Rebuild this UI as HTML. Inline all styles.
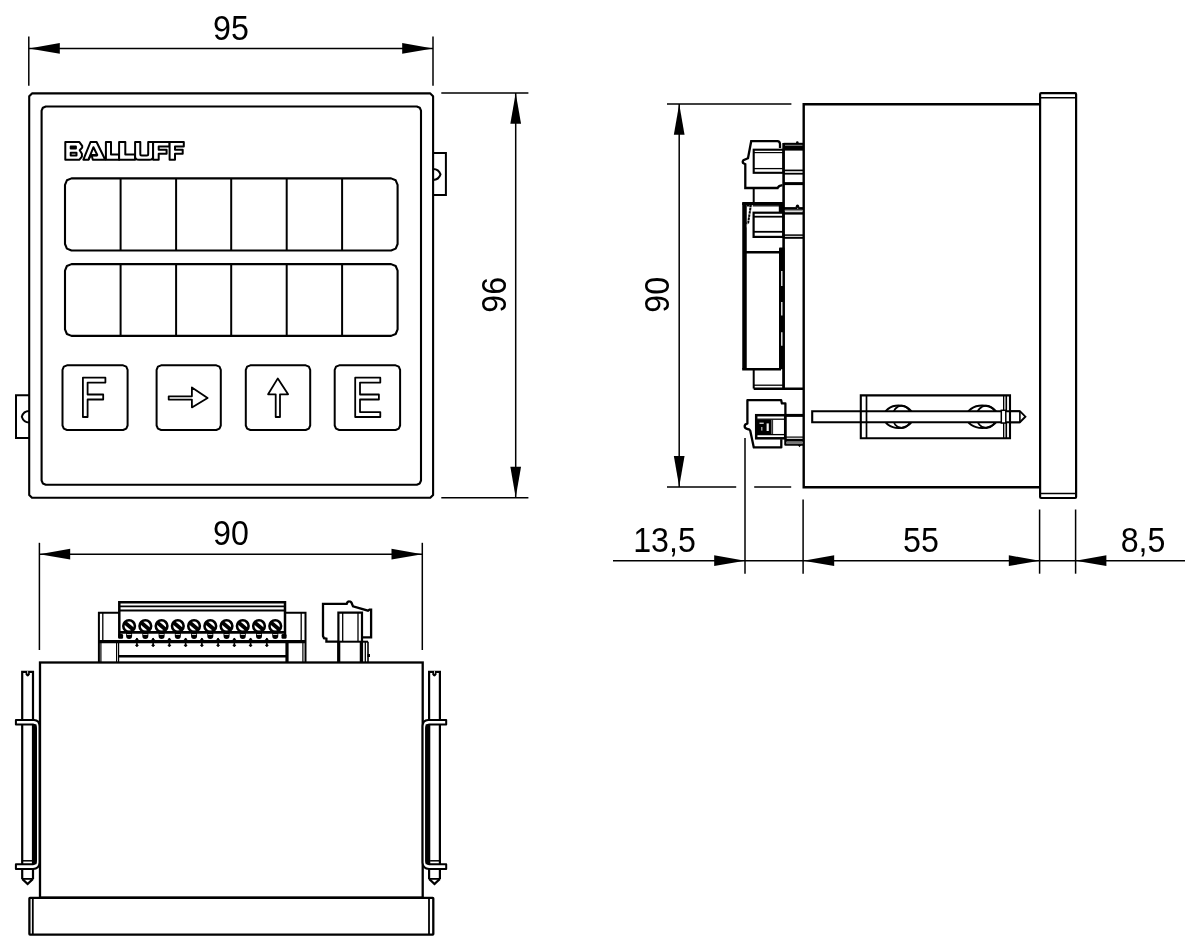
<!DOCTYPE html>
<html><head><meta charset="utf-8"><title>Dimensional drawing</title>
<style>
html,body{margin:0;padding:0;background:#fff;}
body{width:1200px;height:951px;overflow:hidden;font-family:"Liberation Sans",sans-serif;}
svg{display:block;will-change:transform;}
svg text{font-family:"Liberation Sans",sans-serif;}
</style></head>
<body>
<svg width="1200" height="951" viewBox="0 0 1200 951" fill="none" stroke="#000" stroke-linecap="butt">
<rect x="0" y="0" width="1200" height="951" fill="#fff" stroke="none"/>
<g id="front">
<path d="M430.3,93.4 L433.1,96.2 L433.1,494.9 L430.3,497.7 L32.0,497.7 L29.2,494.9 L29.2,96.2 L32.0,93.4 Z" stroke-width="2.1" stroke-linejoin="round" />
<path d="M416.8,106.5 L419.77,107.73 L421.0,110.7 L421.0,480.5 L419.77,483.47 L416.8,484.7 L45.8,484.7 L42.83,483.47 L41.6,480.5 L41.6,110.7 L42.83,107.73 L45.8,106.5 Z" stroke-width="2.1" stroke-linejoin="round" />
<path d="M391.1,178.4 L395.7,180.3 L397.6,184.9 L397.6,244.0 L395.7,248.6 L391.1,250.5 L71.5,250.5 L66.9,248.6 L65.0,244.0 L65.0,184.9 L66.9,180.3 L71.5,178.4 Z" stroke-width="2.1" stroke-linejoin="round" />
<line x1="120.6" y1="178.4" x2="120.6" y2="250.5" stroke-width="2" />
<line x1="176.1" y1="178.4" x2="176.1" y2="250.5" stroke-width="2" />
<line x1="231.2" y1="178.4" x2="231.2" y2="250.5" stroke-width="2" />
<line x1="286.7" y1="178.4" x2="286.7" y2="250.5" stroke-width="2" />
<line x1="342.1" y1="178.4" x2="342.1" y2="250.5" stroke-width="2" />
<path d="M391.1,264.1 L395.7,266.0 L397.6,270.6 L397.6,329.4 L395.7,334.0 L391.1,335.9 L71.5,335.9 L66.9,334.0 L65.0,329.4 L65.0,270.6 L66.9,266.0 L71.5,264.1 Z" stroke-width="2.1" stroke-linejoin="round" />
<line x1="120.6" y1="264.1" x2="120.6" y2="335.9" stroke-width="2" />
<line x1="176.1" y1="264.1" x2="176.1" y2="335.9" stroke-width="2" />
<line x1="231.2" y1="264.1" x2="231.2" y2="335.9" stroke-width="2" />
<line x1="286.7" y1="264.1" x2="286.7" y2="335.9" stroke-width="2" />
<line x1="342.1" y1="264.1" x2="342.1" y2="335.9" stroke-width="2" />
<path d="M123.1,365.3 L126.28,366.62 L127.6,369.8 L127.6,425.5 L126.28,428.68 L123.1,430.0 L67.0,430.0 L63.82,428.68 L62.5,425.5 L62.5,369.8 L63.82,366.62 L67.0,365.3 Z" stroke-width="2" stroke-linejoin="round" />
<path d="M216.3,365.3 L219.48,366.62 L220.8,369.8 L220.8,425.5 L219.48,428.68 L216.3,430.0 L161.1,430.0 L157.92,428.68 L156.6,425.5 L156.6,369.8 L157.92,366.62 L161.1,365.3 Z" stroke-width="2" stroke-linejoin="round" />
<path d="M305.7,365.3 L308.88,366.62 L310.2,369.8 L310.2,425.5 L308.88,428.68 L305.7,430.0 L250.3,430.0 L247.12,428.68 L245.8,425.5 L245.8,369.8 L247.12,366.62 L250.3,365.3 Z" stroke-width="2" stroke-linejoin="round" />
<path d="M395.6,365.3 L398.78,366.62 L400.1,369.8 L400.1,425.5 L398.78,428.68 L395.6,430.0 L339.2,430.0 L336.02,428.68 L334.7,425.5 L334.7,369.8 L336.02,366.62 L339.2,365.3 Z" stroke-width="2" stroke-linejoin="round" />
<path d="M82.9,377.7 H105.4 V382.6 H87.6 V394.5 H103.2 V399.5 H87.6 V417 H82.9 Z" stroke-width="1.8" stroke-linejoin="round"/>
<path d="M168.7,396.3 H191.9 V387.4 L207.6,397.9 L191.9,407.4 V399.6 H168.7 Z" stroke-width="1.8" stroke-linejoin="round"/>
<path d="M277.8,378.4 L288.1,394.3 H280 V417 H275.7 V394.3 H268.1 Z" stroke-width="1.8" stroke-linejoin="round"/>
<path d="M355.2,377.7 H380.3 V382.6 H360 V394.5 H378.9 V399.5 H360 V412.1 H380.3 V417 H355.2 Z" stroke-width="1.8" stroke-linejoin="round"/>
<path d="M433.1,152.9 H445.9 V194.9 H433.1" stroke-width="2" />
<path d="M433.1,168.9 C437.6,168.9 439.6,171.6 440.5,174.4 C439.6,177.2 437.6,179.9 433.1,179.9" stroke-width="2" stroke-linejoin="round"/>
<path d="M29.2,395.3 H16 V438 H29.2" stroke-width="2" />
<path d="M29.2,411 C24.7,411 22.7,413.8 21.8,416.7 C22.7,419.6 24.7,422.4 29.2,422.4" stroke-width="2" stroke-linejoin="round"/>
<g id="logo" stroke-width="2" stroke-linejoin="round" fill="#fff">
<path d="M105.9,142.1 H111 V154.6 H119.1 V159.8 H105.9 Z"/>
<path d="M65.3,142.1 H79.4 L82.2,145.8 V147.6 L79.7,150.3 L81.9,153.8 V156.6 L79.2,159.8 H65.3 Z"/>
<path d="M70.7,146.4 H75.9 V148.5 H70.7 Z M70.7,152.7 H76.5 V155.6 H70.7 Z"/>
<path d="M83.4,159.7 L90.5,142 H96.6 L105.2,159.7 H92.8 L91.8,156 L90.9,155 L88.5,159.7 Z"/>
<path d="M88.5,159.7 L93.45,147.2 L97.3,155 H90.9" fill="none"/>
<path d="M90.9,155.4 H97.4" stroke-width="2.4" fill="none"/>
<path d="M119.1,142.1 H125.3 V154.6 H135.1 V159.8 H119.1 Z"/>
<path d="M135.1,142.1 H140.3 V154 Q140.3,155.5 141.8,155.5 H146.7 Q148.2,155.5 148.2,154 V142.1 H153.1 V156.4 Q153.1,159.8 149.4,159.8 H139 Q135.1,159.8 135.1,156.4 Z"/>
<path d="M153.1,142.1 H169.6 V146.5 H158.7 V149.8 H166.6 V153.8 H158.7 V159.8 H153.1 Z"/>
<path d="M169.6,142.1 H183.8 V146.5 H175 V149.8 H182.7 V153.8 H175 V159.8 H169.6 Z"/>

</g>
</g>
<g id="dims1">
<line x1="28.8" y1="36.6" x2="28.8" y2="85.8" stroke-width="1.5" />
<line x1="433" y1="36.6" x2="433" y2="85.8" stroke-width="1.5" />
<line x1="29" y1="48.4" x2="433" y2="48.4" stroke-width="1.5" />
<polygon points="29,48.4 59.8,43.05 59.8,53.75" fill="#000" stroke="none"/>
<polygon points="433,48.4 402.2,53.75 402.2,43.05" fill="#000" stroke="none"/>
<text x="0" y="0" font-size="33" text-anchor="middle" fill="#000" stroke="none" transform="translate(230.9 39.7) scale(0.9755 1.072)">95</text>
<line x1="441.3" y1="93" x2="528.4" y2="93" stroke-width="1.5" />
<line x1="441.3" y1="497.7" x2="528.4" y2="497.7" stroke-width="1.5" />
<line x1="515.7" y1="93" x2="515.7" y2="497.7" stroke-width="1.5" />
<polygon points="515.7,93 521.0500000000001,123.8 510.35,123.8" fill="#000" stroke="none"/>
<polygon points="515.7,497.5 510.35,466.7 521.0500000000001,466.7" fill="#000" stroke="none"/>
<text x="0" y="0" font-size="33" text-anchor="middle" fill="#000" stroke="none" transform="translate(505.6 294.8) rotate(-90) scale(0.9755 1.072)">96</text>
</g>
<g id="top">
<line x1="39.4" y1="542.8" x2="39.4" y2="650" stroke-width="1.5" />
<line x1="422.3" y1="542.8" x2="422.3" y2="650" stroke-width="1.5" />
<line x1="39.4" y1="554.2" x2="422.3" y2="554.2" stroke-width="1.5" />
<polygon points="39.4,554.2 70.2,548.85 70.2,559.5500000000001" fill="#000" stroke="none"/>
<polygon points="422.3,554.2 391.5,559.5500000000001 391.5,548.85" fill="#000" stroke="none"/>
<text x="0" y="0" font-size="33" text-anchor="middle" fill="#000" stroke="none" transform="translate(230.9 544.8) scale(0.9755 1.072)">90</text>
<rect x="40" y="662.5" width="382.7" height="235.1" rx="0" stroke-width="2.3" />
<rect x="29.4" y="897.8" width="403.9" height="36.8" rx="0.6" stroke-width="2.3" />
<line x1="32.8" y1="897.6" x2="32.8" y2="934.6" stroke-width="1.8" />
<line x1="429" y1="897.6" x2="429" y2="934.6" stroke-width="1.8" />
<path d="M98.9,662 V612.7 H119 M285.3,612.7 H305.5 V662" stroke-width="2" />
<line x1="102.8" y1="612.4" x2="102.8" y2="641" stroke-width="1.3" />
<line x1="301.2" y1="612.4" x2="301.2" y2="641" stroke-width="1.3" />
<line x1="100.9" y1="642" x2="100.9" y2="662" stroke-width="1.2" />
<line x1="302.9" y1="642" x2="302.9" y2="662" stroke-width="1.2" />
<line x1="98.9" y1="641.7" x2="305.5" y2="641.7" stroke-width="3.2" />
<path d="M119.3,637.5 V602.2 H285 V637.5" stroke-width="2.5" />
<line x1="119" y1="606.4" x2="285.3" y2="606.4" stroke-width="1.6" />
<line x1="119" y1="610.4" x2="285.3" y2="610.4" stroke-width="2" />
<rect x="118.1" y="634" width="5" height="4.8" fill="#000" stroke="none" rx="1.2"/>
<rect x="281.5" y="634" width="5" height="4.8" fill="#000" stroke="none" rx="1.2"/>
<path d="M126.1,633 V636 A3,2.9 0 0 0 132.1,636 V633 Z" fill="#000" stroke="none"/>
<circle cx="129.1" cy="626.1" r="5.8" stroke-width="2.6" fill="#fff"/>
<line x1="124.8" y1="622.5" x2="133.4" y2="629.7" stroke-width="3.9"/>
<path d="M142.34,633 V636 A3,2.9 0 0 0 148.34,636 V633 Z" fill="#000" stroke="none"/>
<circle cx="145.34" cy="626.1" r="5.8" stroke-width="2.6" fill="#fff"/>
<line x1="141.04" y1="622.5" x2="149.64000000000001" y2="629.7" stroke-width="3.9"/>
<path d="M158.58,633 V636 A3,2.9 0 0 0 164.58,636 V633 Z" fill="#000" stroke="none"/>
<circle cx="161.58" cy="626.1" r="5.8" stroke-width="2.6" fill="#fff"/>
<line x1="157.28" y1="622.5" x2="165.88000000000002" y2="629.7" stroke-width="3.9"/>
<path d="M174.82,633 V636 A3,2.9 0 0 0 180.82,636 V633 Z" fill="#000" stroke="none"/>
<circle cx="177.82" cy="626.1" r="5.8" stroke-width="2.6" fill="#fff"/>
<line x1="173.51999999999998" y1="622.5" x2="182.12" y2="629.7" stroke-width="3.9"/>
<path d="M191.06,633 V636 A3,2.9 0 0 0 197.06,636 V633 Z" fill="#000" stroke="none"/>
<circle cx="194.06" cy="626.1" r="5.8" stroke-width="2.6" fill="#fff"/>
<line x1="189.76" y1="622.5" x2="198.36" y2="629.7" stroke-width="3.9"/>
<path d="M207.3,633 V636 A3,2.9 0 0 0 213.3,636 V633 Z" fill="#000" stroke="none"/>
<circle cx="210.3" cy="626.1" r="5.8" stroke-width="2.6" fill="#fff"/>
<line x1="206.0" y1="622.5" x2="214.60000000000002" y2="629.7" stroke-width="3.9"/>
<path d="M223.54,633 V636 A3,2.9 0 0 0 229.54,636 V633 Z" fill="#000" stroke="none"/>
<circle cx="226.54" cy="626.1" r="5.8" stroke-width="2.6" fill="#fff"/>
<line x1="222.23999999999998" y1="622.5" x2="230.84" y2="629.7" stroke-width="3.9"/>
<path d="M239.78,633 V636 A3,2.9 0 0 0 245.78,636 V633 Z" fill="#000" stroke="none"/>
<circle cx="242.78" cy="626.1" r="5.8" stroke-width="2.6" fill="#fff"/>
<line x1="238.48" y1="622.5" x2="247.08" y2="629.7" stroke-width="3.9"/>
<path d="M256.02,633 V636 A3,2.9 0 0 0 262.02,636 V633 Z" fill="#000" stroke="none"/>
<circle cx="259.02" cy="626.1" r="5.8" stroke-width="2.6" fill="#fff"/>
<line x1="254.71999999999997" y1="622.5" x2="263.32" y2="629.7" stroke-width="3.9"/>
<path d="M272.26,633 V636 A3,2.9 0 0 0 278.26,636 V633 Z" fill="#000" stroke="none"/>
<circle cx="275.26" cy="626.1" r="5.8" stroke-width="2.6" fill="#fff"/>
<line x1="270.96" y1="622.5" x2="279.56" y2="629.7" stroke-width="3.9"/>
<line x1="119.3" y1="632.4" x2="285.3" y2="632.4" stroke-width="2.6" />
<line x1="126.89999999999999" y1="634.5" x2="131.29999999999998" y2="634.5" stroke="#ccc" stroke-width="1"/>
<line x1="143.14000000000001" y1="634.5" x2="147.54" y2="634.5" stroke="#ccc" stroke-width="1"/>
<line x1="159.38000000000002" y1="634.5" x2="163.78" y2="634.5" stroke="#ccc" stroke-width="1"/>
<line x1="175.62" y1="634.5" x2="180.01999999999998" y2="634.5" stroke="#ccc" stroke-width="1"/>
<line x1="191.86" y1="634.5" x2="196.26" y2="634.5" stroke="#ccc" stroke-width="1"/>
<line x1="208.10000000000002" y1="634.5" x2="212.5" y2="634.5" stroke="#ccc" stroke-width="1"/>
<line x1="224.34" y1="634.5" x2="228.73999999999998" y2="634.5" stroke="#ccc" stroke-width="1"/>
<line x1="240.58" y1="634.5" x2="244.98" y2="634.5" stroke="#ccc" stroke-width="1"/>
<line x1="256.82" y1="634.5" x2="261.21999999999997" y2="634.5" stroke="#ccc" stroke-width="1"/>
<line x1="273.06" y1="634.5" x2="277.46" y2="634.5" stroke="#ccc" stroke-width="1"/>
<line x1="136.9" y1="638" x2="136.9" y2="646.6" stroke-width="1.6" />
<path d="M134.9,640 L136.9,637.8 L138.9,640 Z M134.9,645.2 L136.9,644 L138.9,645.2 L136.9,647 Z" fill="#000" stroke="none"/>
<line x1="153.14" y1="638" x2="153.14" y2="646.6" stroke-width="1.6" />
<path d="M151.14,640 L153.14,637.8 L155.14,640 Z M151.14,645.2 L153.14,644 L155.14,645.2 L153.14,647 Z" fill="#000" stroke="none"/>
<line x1="169.38" y1="638" x2="169.38" y2="646.6" stroke-width="1.6" />
<path d="M167.38,640 L169.38,637.8 L171.38,640 Z M167.38,645.2 L169.38,644 L171.38,645.2 L169.38,647 Z" fill="#000" stroke="none"/>
<line x1="185.62" y1="638" x2="185.62" y2="646.6" stroke-width="1.6" />
<path d="M183.62,640 L185.62,637.8 L187.62,640 Z M183.62,645.2 L185.62,644 L187.62,645.2 L185.62,647 Z" fill="#000" stroke="none"/>
<line x1="201.86" y1="638" x2="201.86" y2="646.6" stroke-width="1.6" />
<path d="M199.86,640 L201.86,637.8 L203.86,640 Z M199.86,645.2 L201.86,644 L203.86,645.2 L201.86,647 Z" fill="#000" stroke="none"/>
<line x1="218.1" y1="638" x2="218.1" y2="646.6" stroke-width="1.6" />
<path d="M216.1,640 L218.1,637.8 L220.1,640 Z M216.1,645.2 L218.1,644 L220.1,645.2 L218.1,647 Z" fill="#000" stroke="none"/>
<line x1="234.34" y1="638" x2="234.34" y2="646.6" stroke-width="1.6" />
<path d="M232.34,640 L234.34,637.8 L236.34,640 Z M232.34,645.2 L234.34,644 L236.34,645.2 L234.34,647 Z" fill="#000" stroke="none"/>
<line x1="250.58" y1="638" x2="250.58" y2="646.6" stroke-width="1.6" />
<path d="M248.58,640 L250.58,637.8 L252.58,640 Z M248.58,645.2 L250.58,644 L252.58,645.2 L250.58,647 Z" fill="#000" stroke="none"/>
<line x1="266.82" y1="638" x2="266.82" y2="646.6" stroke-width="1.6" />
<path d="M264.82,640 L266.82,637.8 L268.82,640 Z M264.82,645.2 L266.82,644 L268.82,645.2 L266.82,647 Z" fill="#000" stroke="none"/>
<line x1="116.6" y1="642" x2="116.6" y2="662" stroke-width="1.2" />
<line x1="118.6" y1="642" x2="118.6" y2="662" stroke-width="1.2" />
<line x1="287" y1="641" x2="287" y2="662" stroke-width="3.2" />
<line x1="119" y1="656.2" x2="287" y2="656.2" stroke-width="2.6" />
<path d="M338,641.7 H326.4 V638.6 L324,638.2 L323,636 V603.8 H346.7 Q347.5,601.3 349.3,601.4 Q351.5,601.4 352,604 L353,606.3 L368,610.7 L369.5,609.6 H371.1 V637.4 H362.5" stroke-width="2.3" />
<path d="M338.4,662 V612.7 H362 V662" stroke-width="2.2" />
<line x1="342.7" y1="612.7" x2="342.7" y2="641.7" stroke-width="1.3" />
<line x1="358" y1="612.7" x2="358" y2="641.7" stroke-width="1.3" />
<line x1="338.8" y1="641.7" x2="338.8" y2="662" stroke-width="3" />
<line x1="338.4" y1="641.7" x2="368" y2="641.7" stroke-width="2" />
<line x1="360.4" y1="641.7" x2="360.4" y2="662" stroke-width="1.3" />
<line x1="365.3" y1="641.7" x2="365.3" y2="662" stroke-width="1.3" />
<line x1="368" y1="641.7" x2="368" y2="662" stroke-width="1.6" />
<rect x="367.5" y="654" width="2.5" height="3" fill="#000" stroke="none"/>
<g>
<path d="M22.2,878.9 V671.8 H33 V878.9" stroke-width="2.2" />
<path d="M25.6,671.8 V674.6 Q27.7,678.6 29.8,674.6 V671.8 Z" fill="#000" stroke="none"/>
<path d="M27.3,671 V673.4 Q27.7,674.2 28.1,673.4 V671 Z" fill="#fff" stroke="none"/>
<path d="M15.9,720 H34 Q39.3,720.2 39.5,726 V862.5 Q39.3,868.8 33,869 H15.9 V864.2 H33 Q35.8,864 36,861 V728 Q35.8,724.6 33,724.4 H15.9 Z" stroke-width="2" fill="#fff" stroke-linejoin="round"/>
<rect x="32" y="724.4" width="4.5" height="139.8" fill="#000" stroke="none"/>
<line x1="22.2" y1="860.8" x2="32" y2="860.8" stroke-width="1.5" />
<path d="M22.2,878.9 L27.6,884 L33,878.9" stroke-width="2.2" />
<line x1="22.2" y1="878.9" x2="33" y2="878.9" stroke-width="1.8" />
</g>
<g transform="translate(462.1,0) scale(-1,1)">
<path d="M22.2,878.9 V671.8 H33 V878.9" stroke-width="2.2" />
<path d="M25.6,671.8 V674.6 Q27.7,678.6 29.8,674.6 V671.8 Z" fill="#000" stroke="none"/>
<path d="M27.3,671 V673.4 Q27.7,674.2 28.1,673.4 V671 Z" fill="#fff" stroke="none"/>
<path d="M15.9,720 H34 Q39.3,720.2 39.5,726 V862.5 Q39.3,868.8 33,869 H15.9 V864.2 H33 Q35.8,864 36,861 V728 Q35.8,724.6 33,724.4 H15.9 Z" stroke-width="2" fill="#fff" stroke-linejoin="round"/>
<rect x="32" y="724.4" width="4.5" height="139.8" fill="#000" stroke="none"/>
<line x1="22.2" y1="860.8" x2="32" y2="860.8" stroke-width="1.5" />
<path d="M22.2,878.9 L27.6,884 L33,878.9" stroke-width="2.2" />
<line x1="22.2" y1="878.9" x2="33" y2="878.9" stroke-width="1.8" />
</g>
</g>
<g id="side">
<line x1="667" y1="104" x2="791.4" y2="104" stroke-width="1.5" />
<line x1="667" y1="487" x2="736.2" y2="487" stroke-width="1.5" />
<line x1="754.2" y1="487" x2="791.2" y2="487" stroke-width="1.5" />
<line x1="679.2" y1="104" x2="679.2" y2="487" stroke-width="1.5" />
<polygon points="679.2,104 684.5500000000001,134.8 673.85,134.8" fill="#000" stroke="none"/>
<polygon points="679.2,486.8 673.85,456.0 684.5500000000001,456.0" fill="#000" stroke="none"/>
<text x="0" y="0" font-size="33" text-anchor="middle" fill="#000" stroke="none" transform="translate(669.3 294.8) rotate(-90) scale(0.9755 1.072)">90</text>
<line x1="613" y1="560.7" x2="1185" y2="560.7" stroke-width="1.5" />
<line x1="745" y1="438" x2="745" y2="573.7" stroke-width="1.5" />
<line x1="803.1" y1="499.5" x2="803.1" y2="573.7" stroke-width="1.5" />
<line x1="1039.6" y1="509.5" x2="1039.6" y2="573.7" stroke-width="1.5" />
<line x1="1075.6" y1="509.5" x2="1075.6" y2="573.7" stroke-width="1.5" />
<polygon points="745,560.7 714.2,566.0500000000001 714.2,555.35" fill="#000" stroke="none"/>
<polygon points="803.4,560.7 834.1999999999999,555.35 834.1999999999999,566.0500000000001" fill="#000" stroke="none"/>
<polygon points="1039.6,560.7 1008.8,566.0500000000001 1008.8,555.35" fill="#000" stroke="none"/>
<polygon points="1075.6,560.7 1106.3999999999999,555.35 1106.3999999999999,566.0500000000001" fill="#000" stroke="none"/>
<text x="0" y="0" font-size="33" text-anchor="middle" fill="#000" stroke="none" transform="translate(664.5 552) scale(0.9755 1.072)">13,5</text>
<text x="0" y="0" font-size="33" text-anchor="middle" fill="#000" stroke="none" transform="translate(921 552) scale(0.9755 1.072)">55</text>
<text x="0" y="0" font-size="33" text-anchor="middle" fill="#000" stroke="none" transform="translate(1143 552) scale(0.9755 1.072)">8,5</text>
<path d="M1040,104.2 H803.7 V487.2 H1040" stroke-width="2.4" />
<rect x="1040.1" y="93.2" width="36.0" height="404.8" rx="1" stroke-width="2.2" />
<line x1="1040" y1="97.8" x2="1076" y2="97.8" stroke-width="1.5" />
<line x1="1040" y1="493.5" x2="1076" y2="493.5" stroke-width="1.5" />
<ellipse cx="898.5" cy="416.8" rx="14.7" ry="11.2" stroke-width="2"/>
<ellipse cx="901.8" cy="416.8" rx="9.3" ry="11.2" stroke-width="1.8"/>
<ellipse cx="982.2" cy="416.8" rx="15.8" ry="11.2" stroke-width="2"/>
<ellipse cx="986.3" cy="416.8" rx="9.8" ry="11.2" stroke-width="1.8"/>
<rect x="1003.5" y="395.4" width="3" height="42.8" fill="#aaa" stroke="none"/>
<line x1="1003.5" y1="395.4" x2="1003.5" y2="438.2" stroke-width="1" />
<line x1="1006.4" y1="395.4" x2="1006.4" y2="438.2" stroke-width="1.4" />
<path d="M1019.9,411.2 H812.2 V422.2 H1019.9" stroke-width="2.1" fill="#fff"/>
<path d="M1010,411.2 H1019.9 L1025.4,416.7 L1019.9,422.2 H1010" stroke-width="1.9" fill="#fff"/>
<line x1="1019.9" y1="411.2" x2="1019.9" y2="422.2" stroke-width="1.6" />
<path d="M860.8,395.4 H1010 V438.2 H860.8 Z" stroke-width="2.1" />
<line x1="866.5" y1="395.4" x2="866.5" y2="438.2" stroke-width="1.7" />
<rect x="1001.3" y="410.3" width="4.5" height="12.7" rx="0" stroke-width="1.5" fill="#fff"/>
<line x1="783.6" y1="143" x2="783.6" y2="389" stroke-width="2.6" />
<path d="M780,148 V144 Q779.8,141.3 777.4,141.2 H751.2 L748,158.2 L743.4,160.2 Q742.3,161.5 743,163 L745.3,164.2 V188 H777.6 Q778.6,185.6 782.5,185.2" stroke-width="2.3" />
<rect x="753.7" y="149.7" width="29.7" height="23.1" rx="0" stroke-width="2.1" />
<line x1="753.7" y1="152.6" x2="783" y2="152.6" stroke-width="1.2" />
<line x1="753.7" y1="168.6" x2="783" y2="168.6" stroke-width="1.3" />
<rect x="783.6" y="142.8" width="20" height="7.8" fill="#000" stroke="none"/>
<line x1="785" y1="145.3" x2="802.4" y2="145.3" stroke="#999" stroke-width="0.9"/>
<circle cx="797.3" cy="142.6" r="1.3" fill="#000" stroke="none"/>
<line x1="783.6" y1="170.4" x2="803.6" y2="170.4" stroke-width="1.7" />
<line x1="783.6" y1="173.7" x2="803.6" y2="173.7" stroke-width="1.8" />
<line x1="783.6" y1="183.6" x2="803.6" y2="183.6" stroke-width="3" />
<line x1="753.7" y1="188.2" x2="753.7" y2="203" stroke-width="2" />
<line x1="742.2" y1="203.5" x2="783.6" y2="203.5" stroke-width="2.9" />
<line x1="744.5" y1="203" x2="744.5" y2="369.3" stroke-width="4.5" />
<path d="M746.8,224 L749.8,224.6 L746.8,227.6 Z" fill="#fff" stroke="none"/>
<path d="M747,205.4 H750.8 L748.2,222.6 L746.4,223.6" stroke-width="2" stroke-dasharray="2.6 0.6"/>
<line x1="752.7" y1="205.8" x2="779" y2="205.8" stroke-width="1.3" />
<rect x="778.8" y="203" width="5" height="9.2" fill="#000" stroke="none"/>
<rect x="753.6" y="212.7" width="29.7" height="24.2" rx="0" stroke-width="2.2" />
<line x1="753.7" y1="216.7" x2="783" y2="216.7" stroke-width="1.8" />
<line x1="753.7" y1="231.8" x2="783" y2="231.8" stroke-width="1.8" />
<rect x="783.6" y="207.1" width="20" height="2.7" fill="#000" stroke="none"/>
<rect x="783.6" y="212.2" width="20" height="2.4" fill="#000" stroke="none"/>
<line x1="784.8" y1="210.7" x2="802.4" y2="210.7" stroke="#888" stroke-width="1.2"/>
<circle cx="797.5" cy="206.2" r="1.7" fill="#000" stroke="none"/>
<circle cx="797.7" cy="208.4" r="0.6" fill="#999" stroke="none"/>
<line x1="783.6" y1="235.1" x2="803.6" y2="235.1" stroke-width="1.5" />
<line x1="783.6" y1="237.8" x2="803.6" y2="237.8" stroke-width="2" />
<line x1="744.4" y1="252.2" x2="779" y2="252.2" stroke-width="2.5" />
<rect x="779" y="247.6" width="5.6" height="121.7" rx="0.8" fill="#000" stroke="none"/>
<line x1="781.8" y1="271" x2="781.8" y2="286" stroke-width="1.3" stroke="#fff"/>
<line x1="781.8" y1="302" x2="781.8" y2="315.4" stroke-width="1.3" stroke="#fff"/>
<line x1="781.8" y1="332.3" x2="781.8" y2="345.7" stroke-width="1.3" stroke="#fff"/>
<line x1="742.2" y1="369.3" x2="781" y2="369.3" stroke-width="2.4" />
<path d="M753.7,369.3 V388.6" stroke-width="2" />
<line x1="783.6" y1="369" x2="783.6" y2="389" stroke-width="2" />
<line x1="753.7" y1="385.2" x2="783" y2="385.2" stroke-width="1.3" />
<line x1="753.7" y1="388.8" x2="803.6" y2="388.8" stroke-width="2.4" />
<path d="M781.3,439.3 V447.4 H753.8 L750.2,430.6 Q749.6,429.2 747.4,429 Q744.4,428.4 744.7,425.8 Q745,424 747.4,423.6 V400.2 H781.2 L781.9,403.4 H785.4 V444.7 H803" stroke-width="2.3" stroke-linejoin="round"/>
<rect x="756.2" y="415.2" width="29.0" height="23.1" rx="0" stroke-width="2.5" />
<line x1="756" y1="419.2" x2="785" y2="419.2" stroke-width="1.3" />
<line x1="756" y1="434.6" x2="785" y2="434.6" stroke-width="1.3" />
<rect x="756.6" y="419.6" width="15" height="14.8" fill="#000" stroke="none"/>
<rect x="759.5" y="422.6" width="4.2" height="1.3" fill="#ddd" stroke="none"/><rect x="766.6" y="423.4" width="2.2" height="7.6" fill="#f4f4f4" stroke="none"/><rect x="761" y="427" width="1.5" height="3.6" fill="#999" stroke="none"/>
<line x1="772.6" y1="419.6" x2="772.6" y2="434.4" stroke-width="0.9" />
<line x1="785.4" y1="415.4" x2="803.6" y2="415.4" stroke-width="3" />
<line x1="785.4" y1="437.1" x2="803.6" y2="437.1" stroke-width="1.2" />
<rect x="785.4" y="438.8" width="18" height="2.8" fill="#000" stroke="none"/>
<rect x="786.4" y="441.9" width="16" height="2.2" fill="#777" stroke="none"/>
<path d="M797.8,445 H801.2 L799.5,447.2 Z" fill="#000" stroke="none"/>
</g>
</svg>
</body></html>
